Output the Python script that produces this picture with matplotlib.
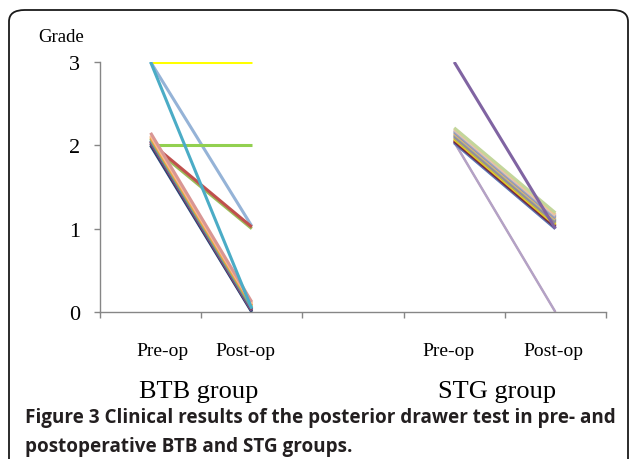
import matplotlib.pyplot as plt
from matplotlib.patches import FancyBboxPatch

# BTB group: each patient is one line from Pre-op (x=0) to Post-op (x=1)
btb_pre = [3.00, 3.00, 2.00, 2.00, 2.03, 2.00, 2.02, 2.04, 2.05, 2.06, 2.08, 2.10, 2.12, 2.15, 3.00]
btb_post = [3.00, 1.03, 2.00, 1.00, 1.02, 0.00, 0.01, 0.02, 0.03, 0.04, 0.06, 0.08, 0.10, 0.12, 0.04]
btb_colors = ["#FFFF00", "#95B3D7", "#92D050", "#9BBB59", "#C0504D", "#1F497D", "#4D3B62",
              "#8064A2", "#943634", "#4F81BD", "#9BBB59", "#F79646", "#FAC090", "#D99694",
              "#4BACC6"]

# STG group: Pre-op (x=3) to Post-op (x=4)
stg_pre = [2.04, 2.04, 2.03, 2.04, 2.05, 2.06, 2.07, 2.08, 2.09, 2.10, 2.11, 2.12, 2.13,
           2.14, 2.15, 2.16, 2.17, 2.18, 2.19, 2.20, 2.21, 3.00]
stg_post = [0.00, 0.00, 1.00, 1.01, 1.02, 1.03, 1.04, 1.05, 1.06, 1.07, 1.08, 1.09, 1.10,
            1.11, 1.12, 1.13, 1.14, 1.15, 1.16, 1.17, 1.19, 1.00]
stg_colors = ["#F79646", "#B3A2C7", "#4F81BD", "#8064A2", "#4D3B62", "#772C2A", "#C0504D",
              "#FFFF00", "#9BBB59", "#F79646", "#4BACC6", "#CD7371", "#729ACA", "#AFC97A",
              "#F9AB6B", "#9983B5", "#6FBDD1", "#D99694", "#B9CDE5", "#FAC090", "#C3D69B",
              "#8064A2"]
stg_widths = [1.2, 1.8] + [2.2] * 20

sub_labels = ["Pre-op", "Post-op", "Pre-op", "Post-op"]
sub_label_x = [0.12, 0.94, 2.94, 3.98]
group_labels = ["BTB group", "STG group"]
group_label_x = [0.475, 3.42]
yticks = [0, 1, 2, 3]

SERIF = ["Liberation Serif", "DejaVu Serif"]
SANS = ["Open Sans", "DejaVu Sans"]

fig = plt.figure(figsize=(6.29, 4.6), dpi=100)
W, H = 629, 460
ax = fig.add_axes([100 / W, 1 - 313 / H, 506 / W, 250 / H])

for p, q, c in zip(btb_pre, btb_post, btb_colors):
    ax.plot([0, 1], [p, q], color=c, lw=2.2, solid_capstyle="butt")
for p, q, c, w in zip(stg_pre, stg_post, stg_colors, stg_widths):
    ax.plot([3, 4], [p, q], color=c, lw=w, solid_capstyle="butt")

ax.set_xlim(-0.5, 4.5)
ax.set_ylim(0, 3)
ax.set_xticks([-0.5, 0.5, 1.5, 2.5, 3.5, 4.5])
ax.set_xticklabels([])
ax.set_yticks(yticks)
ax.set_yticklabels([str(v) for v in yticks], family=SERIF, fontsize=16)
ax.tick_params(axis="both", direction="out", length=4.5, width=1.0, color="#868686")
ax.tick_params(axis="y", pad=10)
for s in ("top", "right"):
    ax.spines[s].set_visible(False)
for s in ("left", "bottom"):
    ax.spines[s].set_color("#868686")
    ax.spines[s].set_linewidth(1.0)

fig.text(61 / W, 1 - 38 / H, "Grade", family=SERIF, fontsize=13.5,
         ha="center", va="center")
for x, t in zip(sub_label_x, sub_labels):
    ax.text(x, -0.12, t, family=SERIF, fontsize=14, ha="center", va="top",
            transform=ax.get_xaxis_transform())
for x, t in zip(group_label_x, group_labels):
    ax.text(x, -0.316, t, family=SERIF, fontsize=19, ha="center", va="center",
            transform=ax.get_xaxis_transform())

fig.text(25 / W, 1 - 418 / H,
         "Figure 3 Clinical results of the posterior drawer test in pre- and",
         fontsize=13.55, fontweight="bold", color="#231F20", va="center", family=SANS)
fig.text(25 / W, 1 - 447 / H, "postoperative BTB and STG groups.",
         fontsize=13.55, fontweight="bold", color="#231F20", va="center", family=SANS)

# rounded frame, open at the bottom edge
frame = FancyBboxPatch((9 / W, -0.2), 619 / W, 1 - 11 / H + 0.2,
                       boxstyle="round,pad=0,rounding_size=0.025",
                       transform=fig.transFigure, fill=False,
                       edgecolor="#1a1a1a", lw=1.3, clip_on=False)
fig.patches.append(frame)

fig.savefig("out.png", dpi=100)
